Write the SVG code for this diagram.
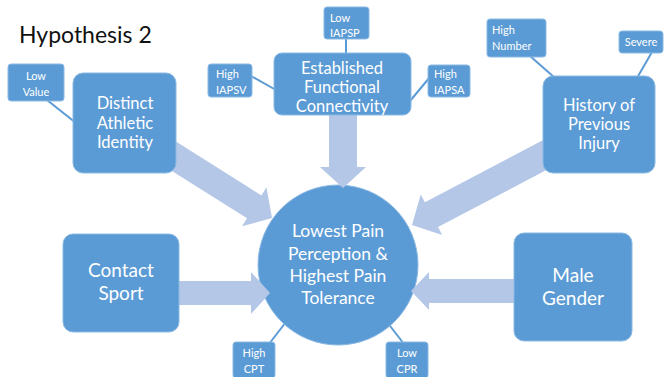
<svg xmlns="http://www.w3.org/2000/svg" width="667" height="377" viewBox="0 0 667 377">
<style>
.box{fill:#5b9bd5;stroke:#8cb9e3;stroke-width:1}
.arr{fill:#b4c7e7}
.ln{stroke:#5b9bd5;stroke-width:2;fill:none}
text{font-family:Lato,"Open Sans","Liberation Sans",sans-serif;fill:#fff}
.big{font-size:16.5px;text-anchor:middle}
.big2{font-size:19px;text-anchor:middle}
.sm{font-size:11px}
.smc{font-size:11px;text-anchor:middle}
.title{font-size:23px;fill:#111}
</style>
<rect width="667" height="377" fill="#fff"/>
<text class="title" x="19" y="43">Hypothesis 2</text>
<g id="connectors">
<line class="ln" x1="47" y1="100" x2="76" y2="123"/>
<line class="ln" x1="346" y1="38" x2="346" y2="55"/>
<line class="ln" x1="251" y1="76" x2="276" y2="90"/>
<line class="ln" x1="410" y1="101" x2="430" y2="77"/>
<line class="ln" x1="530" y1="56" x2="555" y2="78"/>
<line class="ln" x1="652" y1="52" x2="637" y2="78"/>
<line class="ln" x1="269" y1="344" x2="286" y2="322"/>
<line class="ln" x1="387" y1="322" x2="404" y2="344"/>
</g>
<g id="n-outcome">
<circle class="box" cx="338" cy="265" r="80"/>
<text class="big" x="338" y="237" style="font-size:17.5px">Lowest Pain</text>
<text class="big" x="338" y="260" style="font-size:17.5px">Perception &amp;</text>
<text class="big" x="338" y="282" style="font-size:17.5px">Highest Pain</text>
<text class="big" x="338" y="304" style="font-size:17.5px">Tolerance</text>
</g>
<g id="arrows">
<path class="arr" transform="translate(272,218) rotate(32.2)" d="M-130,-13.5 L-21,-13.5 L-21,-23 L0,0 L-21,23 L-21,13.5 L-130,13.5 Z"/>
<path class="arr" d="M329,110 L357,110 L357,167 L366,167 L343,188 L320,167 L329,167 Z"/>
<path class="arr" transform="translate(412,225) rotate(152.2)" d="M-165,-14 L-22,-14 L-22,-23 L0,0 L-22,23 L-22,14 L-165,14 Z"/>
<path class="arr" d="M175,281 L251,281 L251,272 L270,293 L251,314 L251,305 L175,305 Z"/>
<path class="arr" d="M518,279 L429,279 L429,272 L411,291 L429,310 L429,303 L518,303 Z"/>
</g>
<g id="n-identity">
<rect class="box" x="73" y="73" width="103" height="100" rx="10"/>
<text class="big" x="125" y="109">Distinct</text>
<text class="big" x="125" y="129">Athletic</text>
<text class="big" x="125" y="148">Identity</text>
</g>
<g id="n-lowvalue">
<rect class="box" x="8" y="64" width="56" height="37" rx="3"/>
<text class="smc" x="36" y="80">Low</text>
<text class="smc" x="36" y="96">Value</text>
</g>
<g id="n-connectivity">
<rect class="box" x="274" y="53" width="137" height="62" rx="8"/>
<text class="big" x="342" y="74">Established</text>
<text class="big" x="342" y="93">Functional</text>
<text class="big" x="342" y="112">Connectivity</text>
</g>
<g id="n-iapsp">
<rect class="box" x="324" y="7" width="45" height="32" rx="3"/>
<text class="sm" x="330" y="22">Low</text>
<text class="sm" x="330" y="37">IAPSP</text>
</g>
<g id="n-iapsv">
<rect class="box" x="208" y="64" width="44" height="33" rx="3"/>
<text class="sm" x="216" y="78">High</text>
<text class="sm" x="216" y="94">IAPSV</text>
</g>
<g id="n-iapsa">
<rect class="box" x="428" y="65" width="42" height="32" rx="3"/>
<text class="sm" x="434" y="78">High</text>
<text class="sm" x="434" y="94">IAPSA</text>
</g>
<g id="n-injury">
<rect class="box" x="543" y="76" width="112" height="97" rx="10"/>
<text class="big" x="599" y="111">History of</text>
<text class="big" x="599" y="130">Previous</text>
<text class="big" x="599" y="149">Injury</text>
</g>
<g id="n-number">
<rect class="box" x="487" y="19" width="59" height="38" rx="3"/>
<text class="sm" x="492" y="34">High</text>
<text class="sm" x="492" y="50">Number</text>
</g>
<g id="n-severe">
<rect class="box" x="619" y="31" width="44" height="22" rx="3"/>
<text class="smc" x="641" y="46">Severe</text>
</g>
<g id="n-contact">
<rect class="box" x="63" y="234" width="116" height="98" rx="10"/>
<text class="big2" x="121" y="277">Contact</text>
<text class="big2" x="121" y="300">Sport</text>
</g>
<g id="n-male">
<rect class="box" x="514" y="233" width="118" height="108" rx="10"/>
<text class="big2" x="573" y="282">Male</text>
<text class="big2" x="573" y="305">Gender</text>
</g>
<g id="n-cpt">
<rect class="box" x="233" y="342" width="42" height="36" rx="3"/>
<text class="smc" x="254" y="357">High</text>
<text class="smc" x="254" y="373">CPT</text>
</g>
<g id="n-cpr">
<rect class="box" x="386" y="342" width="42" height="36" rx="3"/>
<text class="smc" x="407" y="357">Low</text>
<text class="smc" x="407" y="373">CPR</text>
</g>
</svg>
